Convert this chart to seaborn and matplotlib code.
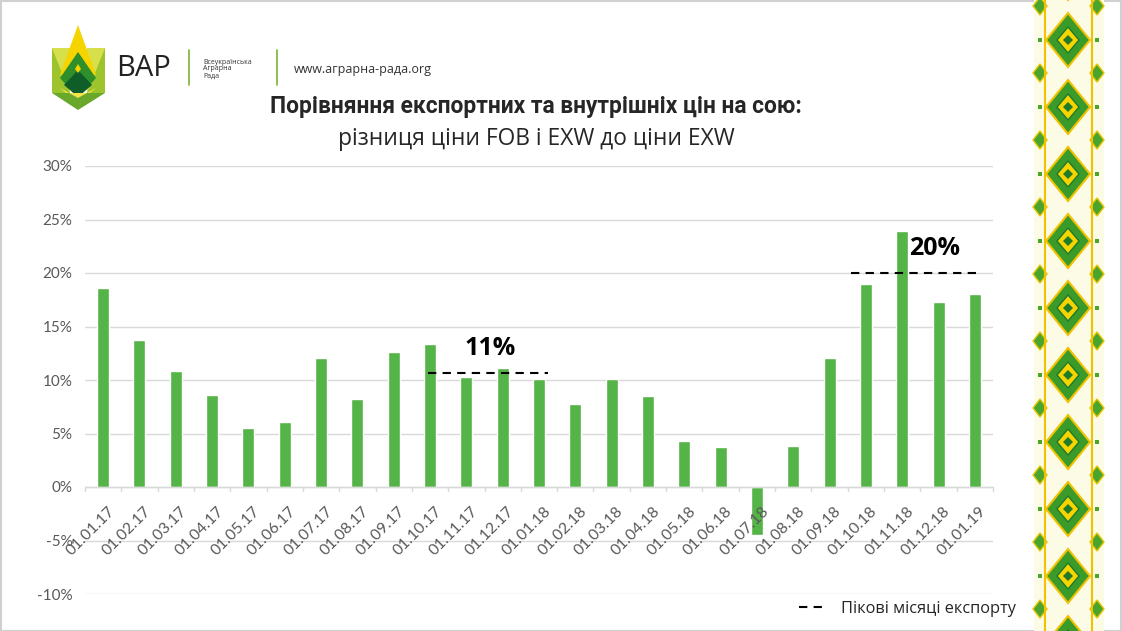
import numpy as np
import pandas as pd
import seaborn as sns
import matplotlib.pyplot as plt
from matplotlib.patches import Polygon, Rectangle
from matplotlib.lines import Line2D
from matplotlib.ticker import PercentFormatter

# data
months = ['01.01.17', '01.02.17', '01.03.17', '01.04.17', '01.05.17', '01.06.17',
          '01.07.17', '01.08.17', '01.09.17', '01.10.17', '01.11.17', '01.12.17',
          '01.01.18', '01.02.18', '01.03.18', '01.04.18', '01.05.18', '01.06.18',
          '01.07.18', '01.08.18', '01.09.18', '01.10.18', '01.11.18', '01.12.18',
          '01.01.19']
spread = [0.186, 0.137, 0.108, 0.086, 0.055, 0.061,
          0.121, 0.082, 0.126, 0.134, 0.103, 0.111,
          0.101, 0.078, 0.101, 0.085, 0.043, 0.037,
          -0.045, 0.038, 0.121, 0.190, 0.239, 0.173,
          0.180]
peak_levels = [0.107, 0.20]
peak_labels = ['11%', '20%']
peak_spans = [(8.95, 12.25), (20.6, 24.2)]
legend_label = 'Пікові місяці експорту'

df = pd.DataFrame({'month': months, 'spread': spread})

sns.set_style('white')
plt.rcParams['font.family'] = ['Lato', 'DejaVu Sans']
plt.rcParams['axes.unicode_minus'] = False

fig = plt.figure(figsize=(11.22, 6.31), dpi=100)
ax = fig.add_axes([85 / 1122, 1 - 594 / 631, 908 / 1122, 428 / 631])

sns.barplot(data=df, x='month', y='spread', color='#55B447', saturation=1,
            width=0.33, ax=ax)

ax.set_ylim(-0.10, 0.30)
ax.set_xlim(-0.5, len(months) - 0.5)
ax.set_yticks(np.arange(-0.10, 0.301, 0.05))
ax.yaxis.set_major_formatter(PercentFormatter(1, decimals=0))
ax.grid(axis='y', color='#d9d9d9', linewidth=1)
ax.set_axisbelow(True)
for s in ax.spines.values():
    s.set_visible(False)
ax.axhline(0, color='#d9d9d9', linewidth=1, zorder=1)
ax.set_xlabel('')
ax.set_ylabel('')
ax.tick_params(axis='y', length=0, labelsize=11, labelcolor='#595959', pad=9)
ax.tick_params(axis='x', length=0)
ax.set_xticks(range(len(months)))
ax.set_xticklabels([])
# x labels sit just under the zero line, rotated like the original
for i, m in enumerate(months):
    ax.text(i + 0.12, -0.016, m, rotation=45, ha='right', va='top',
            rotation_mode='anchor', fontsize=11.3, color='#595959',
            transform=ax.transData)
# small category separators on the zero line
for b in np.arange(-0.5, len(months), 1.0):
    ax.plot([b, b], [0, -0.004], color='#d9d9d9', linewidth=1, clip_on=False)

# peak export months
label_shift = [0.05, 0.5]
for lvl, lab, (x0, x1), dx in zip(peak_levels, peak_labels, peak_spans, label_shift):
    ax.hlines(lvl, x0, x1, colors='black', linestyles=(0, (4, 3)), linewidth=1.5,
              zorder=4)
    ax.text((x0 + x1) / 2 + dx, lvl + 0.011, lab, ha='center', va='bottom',
            fontsize=18, fontweight='bold', color='black',
            family=['Open Sans', 'DejaVu Sans'])

# legend
fig.legend(handles=[Line2D([], [], color='black', linestyle=(0, (4, 3)),
                           linewidth=1.5)],
           labels=[legend_label], loc='center left',
           bbox_to_anchor=(784 / 1122, 1 - 609 / 631), frameon=False,
           handlelength=1.5, handletextpad=1.1,
           prop={'family': ['Open Sans', 'DejaVu Sans'], 'size': 11.8})

# title
fig.text(536 / 1122, 1 - 107 / 631, 'Порівняння експортних та внутрішніх цін на сою:',
         ha='center', va='center', fontsize=16.4, fontweight='bold',
         family=['Roboto', 'DejaVu Sans'])
fig.text(536 / 1122, 1 - 139 / 631, 'різниця ціни FOB і EXW до ціни EXW',
         ha='center', va='center', fontsize=16.4,
         family=['Open Sans', 'DejaVu Sans'])

# header decorations: logo and site name, drawn in pixel space
deco = fig.add_axes([0, 0, 1, 1], zorder=-1)
deco.set_xlim(0, 1122)
deco.set_ylim(631, 0)
deco.axis('off')
deco.add_patch(Rectangle((0.5, 0.5), 1121, 630, fill=False, edgecolor='#d0d0d0',
                         linewidth=1.5))
logo = [
    ([(52, 48), (70, 48), (70, 93), (52, 93)], '#d7e04a'),
    ([(87, 48), (105, 48), (105, 93), (87, 93)], '#d7e04a'),
    ([(52, 48), (70, 93), (52, 93)], '#9dc42c'),
    ([(105, 48), (87, 93), (105, 93)], '#9dc42c'),
    ([(78, 25), (96, 75), (60, 75)], '#f5d400'),
    ([(78, 52), (96, 78), (78, 98), (60, 78)], '#2f8f2a'),
    ([(78, 70), (92, 85), (78, 97), (64, 85)], '#0f5e2a'),
    ([(52, 93), (105, 93), (78, 110)], '#6aa82c'),
    ([(60, 88), (78, 98), (96, 88), (90, 93), (66, 93)], '#f2e44a'),
]
for pts, c in logo:
    deco.add_patch(Polygon(pts, closed=True, facecolor=c, edgecolor='none'))
deco.add_patch(Polygon([(78, 64), (81, 69), (78, 73), (75, 69)], facecolor='#f5d400',
                       edgecolor='none'))
deco.text(116, 69, 'ВАР', fontsize=21, va='center', ha='left', color='#222222',
          family=['Open Sans', 'DejaVu Sans'])
deco.plot([189, 189], [50, 85], color='#7ab530', linewidth=1.2)
deco.text(203, 69, 'Всеукраїнська\nАграрна\nРада', fontsize=5, va='center', ha='left',
          color='#333333', linespacing=1.0, family=['Open Sans', 'DejaVu Sans'])
deco.plot([277, 277], [50, 85], color='#7ab530', linewidth=1.2)
deco.text(294, 70, 'www.аграрна-рада.org', fontsize=9, va='center', ha='left',
          color='#333333', family=['Open Sans', 'DejaVu Sans'])

# embroidery strip on the right
deco.add_patch(Rectangle((1034, 0), 70, 631, facecolor='#fbfbe6', edgecolor='none'))
for xl in (1045, 1092):
    deco.plot([xl, xl], [0, 631], color='#f2c200', linewidth=1.5)
for k, yc in enumerate(np.arange(-27, 660, 67)):
    deco.add_patch(Polygon([(1068, yc - 27), (1090, yc), (1068, yc + 27), (1046, yc)],
                           facecolor='#3a9a2a', edgecolor='#f2c200', linewidth=1.5))
    deco.add_patch(Polygon([(1068, yc - 13), (1079, yc), (1068, yc + 13), (1057, yc)],
                           facecolor='#f5d400', edgecolor='#1f7a2a', linewidth=1))
    deco.add_patch(Polygon([(1068, yc - 5), (1073, yc), (1068, yc + 5), (1063, yc)],
                           facecolor='#1f7a2a', edgecolor='none'))
    ys = yc + 33
    for xs in (1040, 1097):
        deco.add_patch(Polygon([(xs, ys - 9), (xs + 7, ys), (xs, ys + 9), (xs - 7, ys)],
                               facecolor='#4aa52e', edgecolor='#e8c400', linewidth=1))
        deco.add_patch(Rectangle((xs - 2, yc - 2), 4, 4, facecolor='#4aa52e',
                                 edgecolor='none'))

fig.savefig('out.png', dpi=100)
